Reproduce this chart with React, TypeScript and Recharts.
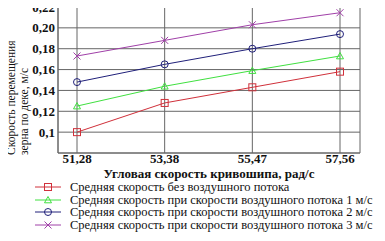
import React from 'react';
import { LineChart, Line, XAxis, YAxis, CartesianGrid, Legend } from 'recharts';

const categories = ['51,28', '53,38', '55,47', '57,56'];
const noAir = [0.1, 0.128, 0.143, 0.158];
const air1 = [0.125, 0.144, 0.159, 0.173];
const air2 = [0.148, 0.165, 0.18, 0.194];
const air3 = [0.173, 0.188, 0.203, 0.2145];
const yTicks = [0.08, 0.1, 0.12, 0.14, 0.16, 0.18, 0.2, 0.22];
const yTickLabels = ['', '0,1', '0,12', '0,14', '0,16', '0,18', '0,20', '0,22'];

const seriesNames = [
  'Средняя скорость без воздушного потока',
  'Средняя скорость при скорости воздушного потока 1 м/с',
  'Средняя скорость при скорости воздушного потока 2 м/с',
  'Средняя скорость при скорости воздушного потока 3 м/с',
];

const data = categories.map((c, i) => ({
  x: c,
  s0: noAir[i],
  s1: air1[i],
  s2: air2[i],
  s3: air3[i],
}));

const FONT = '"Liberation Serif", "Times New Roman", serif';

const colors = ['#d0303a', '#40e040', '#20207a', '#a040a8'];
type Shape = 'square' | 'triangle' | 'circle' | 'cross';
const shapes: Shape[] = ['square', 'triangle', 'circle', 'cross'];

function Marker({ cx, cy, shape, color }: { cx: number; cy: number; shape: Shape; color: string }) {
  const r = 3.5;
  if (shape === 'square')
    return <rect x={cx - r} y={cy - r} width={r * 2} height={r * 2} fill="none" stroke={color} strokeWidth={1} />;
  if (shape === 'triangle')
    return (
      <polygon
        points={`${cx},${cy - r} ${cx - r},${cy + r * 0.8} ${cx + r},${cy + r * 0.8}`}
        fill="none"
        stroke={color}
        strokeWidth={1}
      />
    );
  if (shape === 'circle') return <circle cx={cx} cy={cy} r={r} fill="none" stroke={color} strokeWidth={1} />;
  return (
    <g stroke={color} strokeWidth={1}>
      <line x1={cx - r} y1={cy - r} x2={cx + r} y2={cy + r} />
      <line x1={cx - r} y1={cy + r} x2={cx + r} y2={cy - r} />
    </g>
  );
}

const dotFor = (i: number) => (props: any) => (
  <Marker key={`${i}-${props.index}`} cx={props.cx} cy={props.cy} shape={shapes[i]} color={colors[i]} />
);

function LegendBox() {
  return (
    <div style={{ fontFamily: FONT, fontSize: 12.5, color: '#111', lineHeight: '12.5px' }}>
      {seriesNames.map((n, i) => (
        <div key={n} style={{ display: 'flex', alignItems: 'center', height: 12.5 }}>
          <svg width={26} height={10} style={{ marginRight: 9 }}>
            <line x1={0} y1={5} x2={26} y2={5} stroke={colors[i]} strokeWidth={1} />
            <Marker cx={13} cy={5} shape={shapes[i]} color={colors[i]} />
          </svg>
          <span style={{ whiteSpace: 'nowrap' }}>{n}</span>
        </div>
      ))}
    </div>
  );
}

function YTitle() {
  const y0 = 155;
  return (
    <g fontFamily={FONT} fontSize={11.5} fill="#111">
      <text x={15} y={y0} textAnchor="start" transform={`rotate(-90 15 ${y0})`}>
        Скорость перемещения
      </text>
      <text x={28} y={y0} textAnchor="start" transform={`rotate(-90 28 ${y0})`}>
        зерна по деке, м/с
      </text>
    </g>
  );
}

export default function App() {
  return (
    <div style={{ margin: -8, width: 385, height: 241, background: '#fff', position: 'relative' }}>
      <LineChart width={385} height={241} data={data} margin={{ top: 7, right: 25, bottom: 58, left: 0 }}>
        <CartesianGrid stroke="#666" strokeWidth={1} />
        <XAxis
          dataKey="x"
          padding={{ left: 19, right: 20 }}
          tickLine={false}
          tickSize={0}
          axisLine={{ stroke: '#666' }}
          tick={{ fontFamily: FONT, fontSize: 13, fontWeight: 'bold', fill: '#111' }}
          tickMargin={1}
          height={30}
          label={{
            value: 'Угловая скорость кривошипа, рад/с',
            position: 'insideBottom',
            offset: 5,
            style: { fontFamily: FONT, fontSize: 13, fontWeight: 'bold', fill: '#111' },
          }}
        />
        <YAxis
          domain={[0.08, 0.22]}
          ticks={yTicks}
          interval={0}
          tickFormatter={(v: number) => yTickLabels[yTicks.indexOf(v)] ?? ''}
          width={58}
          tickLine={false}
          tickSize={0}
          tickMargin={3}
          axisLine={{ stroke: '#666' }}
          tick={{ fontFamily: FONT, fontSize: 13, fontWeight: 'bold', fill: '#111' }}
          label={<YTitle />}
        />
        <YAxis yAxisId="r" orientation="right" domain={[0.08, 0.22]} width={0} tick={false} tickLine={false} axisLine={{ stroke: '#666' }} />
        <Legend
          layout="horizontal"
          verticalAlign="middle"
          align="center"
          wrapperStyle={{ position: 'absolute', top: 181, left: 35, width: 350 }}
          content={() => <LegendBox />}
        />
        {['s0', 's1', 's2', 's3'].map((k, i) => (
          <Line
            key={k}
            dataKey={k}
            name={seriesNames[i]}
            stroke={colors[i]}
            strokeWidth={1}
            dot={dotFor(i)}
            activeDot={false}
            isAnimationActive={false}
          />
        ))}
      </LineChart>
    </div>
  );
}
